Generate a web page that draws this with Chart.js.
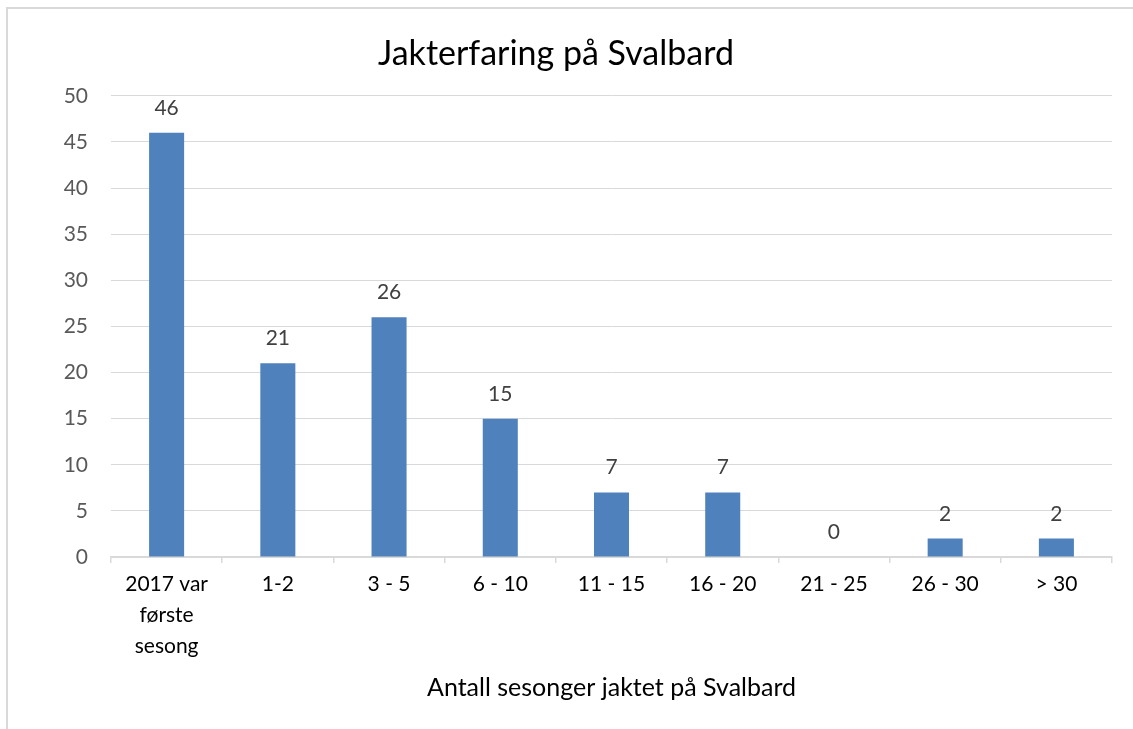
<!DOCTYPE html>
<html>
<head>
<meta charset="utf-8">
<script src="https://cdn.jsdelivr.net/npm/chart.js@4.4.1/dist/chart.umd.min.js"></script>
<style>
  html, body { margin: 0; padding: 0; background: #ffffff; }
  #c { display: block; }
</style>
</head>
<body>
<canvas id="c" width="1133" height="729"></canvas>
<script>
const chartTitle = 'Jakterfaring på Svalbard';
const xAxisTitle = 'Antall sesonger jaktet på Svalbard';
const categories = [['2017 var', 'første', 'sesong'], '1-2', '3 - 5', '6 - 10', '11 - 15', '16 - 20', '21 - 25', '26 - 30', '> 30'];
const values = [46, 21, 26, 15, 7, 7, 0, 2, 2];
const yMin = 0;
const yMax = 50;
const yStep = 5;

const FONT = 'Lato, "Open Sans", "DejaVu Sans", sans-serif';

const framePlugin = {
  id: 'frame',
  beforeDraw(chart) {
    const ctx = chart.ctx;
    ctx.save();
    ctx.fillStyle = '#ffffff';
    ctx.fillRect(0, 0, chart.width, chart.height);
    ctx.fillStyle = '#d9d9d9';
    ctx.fillRect(6, 7, 2, chart.height - 7);
    ctx.fillRect(6, 7, chart.width - 6, 2);
    ctx.restore();
  }
};

const valueLabels = {
  id: 'valueLabels',
  afterDatasetsDraw(chart) {
    const ctx = chart.ctx;
    ctx.save();
    ctx.font = '21px ' + FONT;
    ctx.fillStyle = '#404040';
    ctx.textAlign = 'center';
    ctx.textBaseline = 'alphabetic';
    chart.data.datasets.forEach((ds, i) => {
      const meta = chart.getDatasetMeta(i);
      meta.data.forEach((el, j) => {
        ctx.fillText(String(ds.data[j]), el.x, el.y - 18);
      });
    });
    ctx.restore();
  }
};

new Chart(document.getElementById('c'), {
  type: 'bar',
  data: {
    labels: categories,
    datasets: [{
      data: values,
      backgroundColor: '#4f81bd',
      borderWidth: 0,
      categoryPercentage: 1.0,
      barPercentage: 0.315
    }]
  },
  options: {
    responsive: false,
    animation: false,
    devicePixelRatio: 1,
    layout: { padding: { left: 0, right: 21, top: 0, bottom: 0 } },
    plugins: {
      legend: { display: false },
      tooltip: { enabled: false },
      title: {
        display: true,
        text: chartTitle,
        color: '#000000',
        font: { family: FONT, size: 34, weight: 'normal', lineHeight: 1.2 },
        padding: { top: 34, bottom: 21 }
      }
    },
    scales: {
      x: {
        offset: true,
        grid: {
          offset: true,
          drawOnChartArea: false,
          drawTicks: true,
          tickLength: 6,
          color: '#d9d9d9',
          lineWidth: 1.5
        },
        border: { display: true, color: '#d9d9d9', width: 1.5 },
        ticks: {
          color: '#000000',
          padding: 6,
          maxRotation: 0,
          autoSkip: false,
          font: { family: FONT, size: 21, lineHeight: 1.48 }
        },
        title: {
          display: true,
          text: xAxisTitle,
          color: '#000000',
          font: { family: FONT, size: 25, lineHeight: 1.2 },
          padding: { top: 0, bottom: 26 }
        },
        afterFit(scale) { scale.height = 729 - 557; }
      },
      y: {
        min: yMin,
        max: yMax,
        ticks: {
          stepSize: yStep,
          color: '#595959',
          padding: 23,
          font: { family: FONT, size: 21 }
        },
        grid: { color: '#d9d9d9', lineWidth: 1, drawTicks: false },
        border: { display: false },
        afterFit(scale) { scale.width = 111; }
      }
    }
  },
  plugins: [framePlugin, valueLabels]
});
</script>
</body>
</html>
